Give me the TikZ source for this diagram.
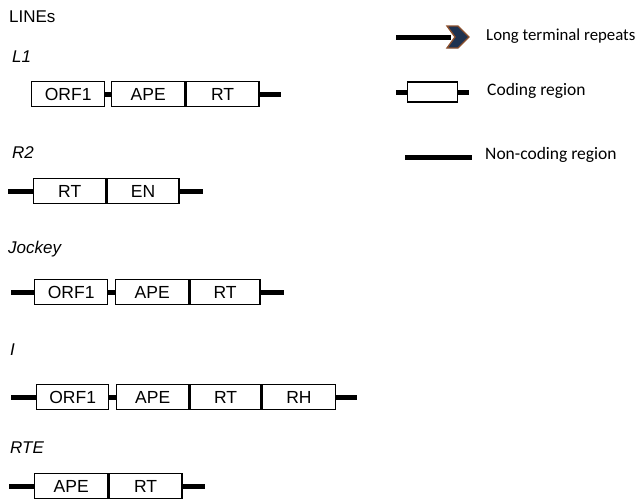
\documentclass[tikz,border=0pt]{standalone}
\usepackage{fontspec}
\setmainfont{Liberation Sans}
\newfontfamily\legfont{Carlito}
\begin{document}
\begin{tikzpicture}[x=1pt,y=-1pt,
  seg/.style={draw=black,fill=white,line width=1.4pt,rectangle,inner sep=0pt,
    minimum width=73pt,minimum height=25pt,anchor=west,font=\fontsize{17.5}{17.5}\selectfont},
  nc/.style={line width=5pt,black},
  title/.style={anchor=west,inner sep=0pt,font=\fontsize{17}{17}\selectfont},
  elab/.style={anchor=west,inner sep=0pt,font=\fontsize{17}{17}\selectfont\itshape},
  leg/.style={anchor=west,inner sep=0pt,font=\legfont\fontsize{17.5}{17.5}\selectfont},
]
\useasboundingbox (0,0) rectangle (641,499);

% titles
\node[title] (lines) at (9,17) {LINEs};
\node[elab] (lL1) at (12,57) {L1};
\node[elab] (lR2) at (12,153) {R2};
\node[elab] (lJo) at (8,249) {Jockey};
\node[elab] (lI) at (10,350) {I};
\node[elab] (lRTE) at (10,448) {RTE};

% L1
\node[seg] (a1) at (31,94) {ORF1};
\node[seg] (a2) at (111,94) {APE};
\node[seg] (a3) at (a2.east) {RT};
\coordinate (a4) at (281,94);
\draw[nc] (a1.east) -- (a2.west);
\draw[nc] (a3.east) -- (a4);

% R2
\coordinate (b0) at (8,191);
\node[seg,minimum width=72pt] (b1) at (33,191) {RT};
\node[seg,minimum width=72pt] (b2) at (b1.east) {EN};
\coordinate (b3) at (203,191);
\draw[nc] (b0) -- (b1.west);
\draw[nc] (b2.east) -- (b3);

% Jockey
\coordinate (c0) at (11,292);
\node[seg] (c1) at (34,292) {ORF1};
\node[seg] (c2) at (115,292) {APE};
\node[seg,minimum width=70pt] (c3) at (c2.east) {RT};
\coordinate (c4) at (284,292);
\draw[nc] (c0) -- (c1.west);
\draw[nc] (c1.east) -- (c2.west);
\draw[nc] (c3.east) -- (c4);

% I
\coordinate (d0) at (11,397);
\node[seg,minimum width=72pt] (d1) at (36,397) {ORF1};
\node[seg,minimum width=72pt] (d2) at (116,397) {APE};
\node[seg,minimum width=71pt] (d3) at (d2.east) {RT};
\node[seg] (d4) at (d3.east) {RH};
\coordinate (d5) at (357,397);
\draw[nc] (d0) -- (d1.west);
\draw[nc] (d1.east) -- (d2.west);
\draw[nc] (d4.east) -- (d5);

% RTE
\coordinate (e0) at (9,486);
\node[seg] (e1) at (34,486) {APE};
\node[seg] (e2) at (e1.east) {RT};
\coordinate (e3) at (205,486);
\draw[nc] (e0) -- (e1.west);
\draw[nc] (e2.east) -- (e3);

% legend: long terminal repeats
\coordinate (f0) at (396,37);
\coordinate (f1) at (451,37);
\draw[nc] (f0) -- (f1);
\filldraw[fill={rgb,255:red,30;green,50;blue,80},draw={rgb,255:red,140;green,80;blue,45},line width=1.3pt,line join=miter]
  (447,26) -- (458,26) -- (469,37) -- (458,48) -- (447,48) -- (455,37) -- cycle;
\node[leg,font=\legfont\fontsize{16.8}{17}\selectfont] (t1) at (486,36) {Long terminal repeats};

% legend: coding region
\coordinate (g0) at (396,92);
\node[seg,minimum width=50pt,minimum height=20pt] (g1) at (407,92) {};
\coordinate (g2) at (469,92);
\draw[nc] (g0) -- (g1.west);
\draw[nc] (g1.east) -- (g2);
\node[leg] (t2) at (487,91) {Coding region};

% legend: non-coding region
\coordinate (h0) at (405,157);
\coordinate (h1) at (472,157);
\draw[nc] (h0) -- (h1);
\node[leg] (t3) at (485,155) {Non-coding region};
\end{tikzpicture}
\end{document}
